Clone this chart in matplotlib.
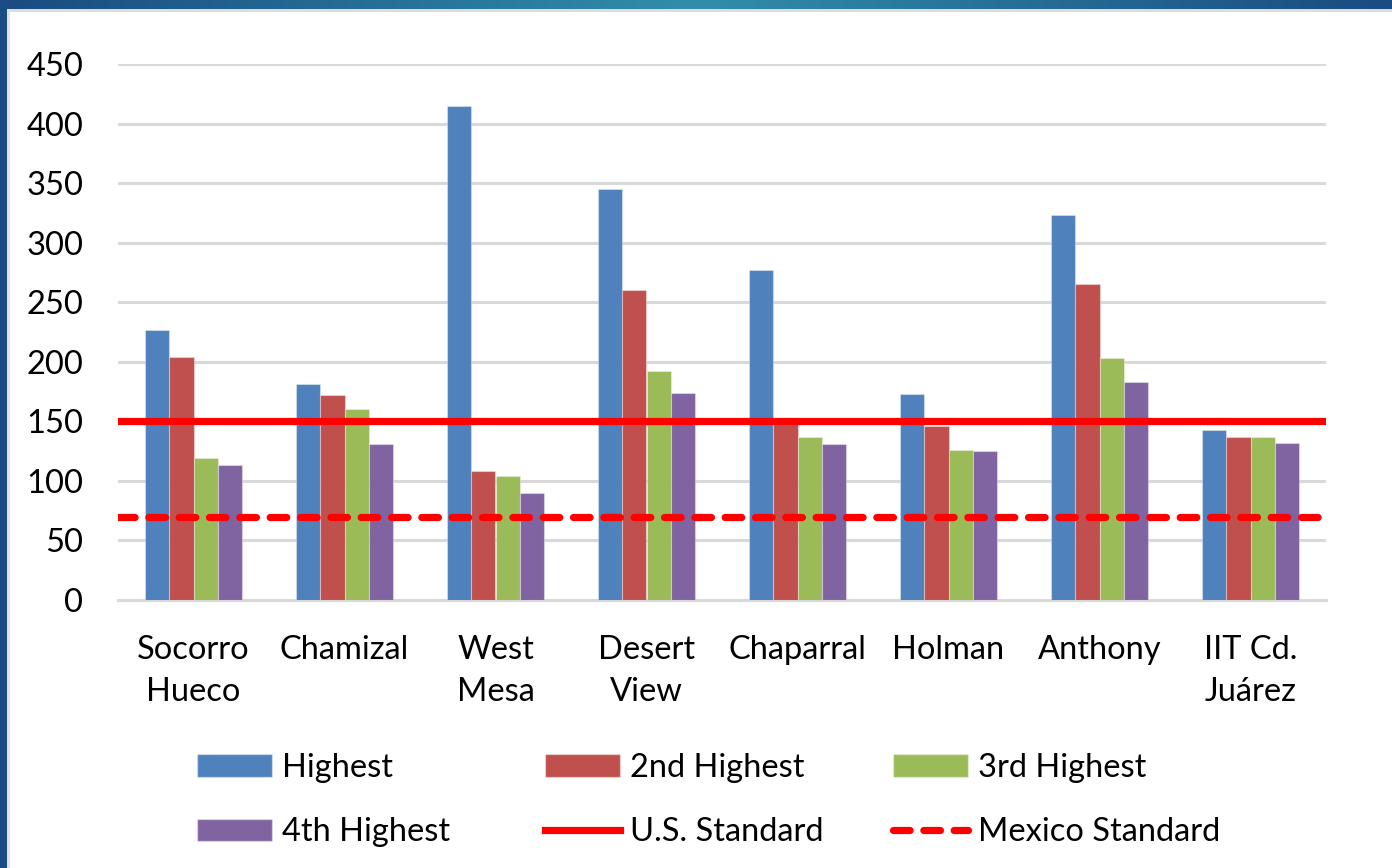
import numpy as np
import matplotlib
matplotlib.use("Agg")
import matplotlib.pyplot as plt
from matplotlib.patches import Rectangle, Patch
from matplotlib.lines import Line2D

plt.rcParams['font.family'] = ['Lato', 'DejaVu Sans']

categories = ["Socorro\nHueco", "Chamizal", "West\nMesa", "Desert\nView",
              "Chaparral", "Holman", "Anthony", "IIT Cd.\nJuárez"]
highest = [227, 181, 415, 345, 277, 173, 323, 143]
second = [204, 172, 108, 260, 150, 146, 265, 137]
third = [119, 160, 104, 192, 137, 126, 203, 137]
fourth = [113, 131, 90, 174, 131, 125, 183, 132]
us_standard = 150
mexico_standard = 70
yticks = [0, 50, 100, 150, 200, 250, 300, 350, 400, 450]

series = [("Highest", highest, "#4F81BD"),
          ("2nd Highest", second, "#C0504D"),
          ("3rd Highest", third, "#9BBB59"),
          ("4th Highest", fourth, "#8064A2")]

W, H = 1392, 868
FS = 23.5
fig = plt.figure(figsize=(W / 100, H / 100), dpi=100)

# background frame
bg = fig.add_axes([0, 0, 1, 1], zorder=-10)
bg.axis("off")
grad = np.abs(np.linspace(-1, 1, 256))
c_edge = np.array([0x1a, 0x4b, 0x82]) / 255
c_mid = np.array([0x31, 0x8e, 0xaa]) / 255
img = (c_mid[None, :] * (1 - grad[:, None]) + c_edge[None, :] * grad[:, None])[None, :, :]
bg.imshow(img, extent=[0, W, 9, 0], aspect="auto")
bg.add_patch(Rectangle((0, 0), 7, H, color="#1b4d85", lw=0))
bg.add_patch(Rectangle((7, 9), W, 3, color="#dcdcdc", lw=0))
bg.add_patch(Rectangle((7, 9), 2.5, H, color="#e2e2e2", lw=0))
bg.set_xlim(0, W)
bg.set_ylim(H, 0)

ax = fig.add_axes([118 / W, 1 - 600 / H, (1326 - 118) / W, (600 - 64) / H])
x = np.arange(len(categories))
n = len(series)
bw = 0.16
for i, (name, vals, col) in enumerate(series):
    ax.bar(x + (i - (n - 1) / 2) * bw, vals, bw, color=col, edgecolor=(1, 1, 1, 0.35),
           linewidth=0.8, zorder=3, label=name)

ax.axhline(us_standard, color="#FF0000", lw=5.2, zorder=4)
ax.axhline(mexico_standard, color="#FF0000", lw=5.2, zorder=4, dashes=(2.3, 1.9),
           dash_capstyle="round")

ax.set_xlim(-0.5, len(categories) - 0.5)
ax.set_ylim(0, 450)
ax.set_yticks(yticks)
ax.yaxis.grid(True, color="#d9d9d9", lw=2.2, zorder=0)
ax.set_axisbelow(True)
for s in ["top", "right", "left"]:
    ax.spines[s].set_visible(False)
ax.spines["bottom"].set_color("#d9d9d9")
ax.spines["bottom"].set_linewidth(2.2)
ax.set_xticks(x)
ax.set_xticklabels(categories, linespacing=1.5)
ax.tick_params(axis="both", length=0, labelsize=FS, colors="black")
ax.tick_params(axis="y", pad=25)
ax.tick_params(axis="x", pad=25)

# legend: three columns of two entries, row-wise like the reference
ec = (1, 1, 1, 0.4)
h_high = Patch(facecolor=series[0][2], edgecolor=ec)
h_2 = Patch(facecolor=series[1][2], edgecolor=ec)
h_3 = Patch(facecolor=series[2][2], edgecolor=ec)
h_4 = Patch(facecolor=series[3][2], edgecolor=ec)
h_us = Line2D([], [], color="#FF0000", lw=5.2)
h_mx = Line2D([], [], color="#FF0000", lw=5.2, dashes=(2.3, 1.9), dash_capstyle="round")
cols = [([h_high, h_4], ["Highest", "4th Highest"], 197),
        ([h_2, h_us], ["2nd Highest", "U.S. Standard"], 545),
        ([h_3, h_mx], ["3rd Highest", "Mexico Standard"], 893)]
for hs, labs, px in cols:
    fig.legend(hs, labs, loc="upper left",
               bbox_to_anchor=(px / W, 1 - 753 / H), frameon=False,
               fontsize=FS, handlelength=2.3, handleheight=0.68,
               handletextpad=0.3, labelspacing=1.05, borderpad=0, borderaxespad=0)

fig.savefig("out.png", dpi=100, facecolor="white")
